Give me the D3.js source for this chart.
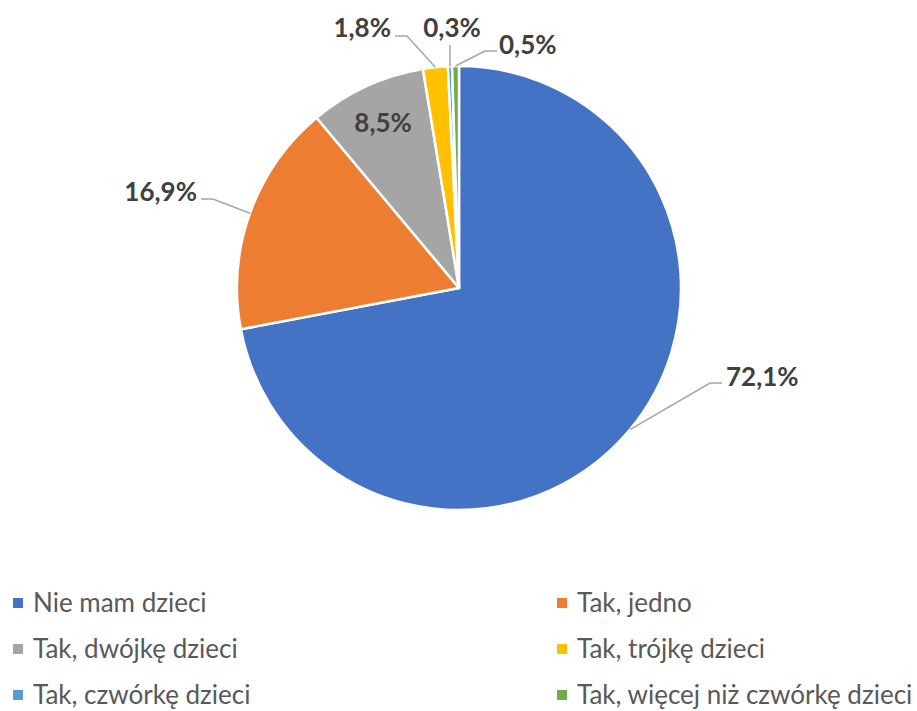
<!DOCTYPE html>
<html><head><meta charset="utf-8">
<script src="https://cdn.jsdelivr.net/npm/d3@7"></script>
<style>body{margin:0;background:#fff}svg{display:block}</style>
</head><body>
<svg id="c" width="917" height="711"></svg>
<script>
const categories = ["Nie mam dzieci","Tak, jedno","Tak, dwójkę dzieci","Tak, trójkę dzieci","Tak, czwórkę dzieci","Tak, więcej niż czwórkę dzieci"];
const values = [72.1,16.9,8.5,1.8,0.3,0.5];
const labels = ["72,1%","16,9%","8,5%","1,8%","0,3%","0,5%"];
const colors = ["#4472C4","#ED7D31","#A5A5A5","#FFC000","#5B9BD5","#70AD47"];

const svg = d3.select("#c");
const cx = 459, cy = 288, R = 222;
const g = svg.append("g").attr("transform",`translate(${cx},${cy})`);
const pie = d3.pie().sort(null).value(d=>d);
const arcs = pie(values);
const arc = d3.arc().innerRadius(0).outerRadius(R);
g.selectAll("path.s").data(arcs).join("path").attr("class","s")
  .attr("d",arc).attr("fill",(d,i)=>colors[i]).attr("stroke","#fff").attr("stroke-width",2.5).attr("stroke-linejoin","round");

// label layout: offsets relative to center (elbow, end, text anchor point)
const layout = [
  {elbow:[251,95], end:[263,95], text:[267,89], anchor:"start"},
  {elbow:[-246,-89], end:[-258,-89], text:[-262,-96], anchor:"end"},
  {inside:0.82},
  {elbow:[-52,-252], end:[-64,-252], text:[-68,-260], anchor:"end"},
  {elbow:[-9,-243], end:[-9,-243], text:[-7,-260], anchor:"middle"},
  {elbow:[26,-237], end:[38,-237], text:[40,-243], anchor:"start"}
];
const pt = (a,r)=>[Math.sin(a)*r, -Math.cos(a)*r];
arcs.forEach((d,i)=>{
  const L = layout[i];
  const mid = (d.startAngle+d.endAngle)/2;
  if (L.inside){
    const p = pt(mid, R*L.inside);
    g.append("text").attr("x",p[0]).attr("y",p[1]).attr("dy","0.36em").attr("text-anchor","middle")
      .attr("font-family","Lato, 'Open Sans', sans-serif").attr("font-weight","bold").attr("font-size",26)
      .attr("fill","#404040").text(labels[i]);
    return;
  }
  const p0 = pt(mid, R);
  const pts = [p0, L.elbow, L.end];
  g.append("path").attr("d", d3.line()(pts)).attr("fill","none").attr("stroke","#A6A6A6").attr("stroke-width",1.5);
  g.append("text").attr("x",L.text[0]).attr("y",L.text[1]).attr("dy","0.36em").attr("text-anchor",L.anchor)
    .attr("font-family","Lato, 'Open Sans', sans-serif").attr("font-weight","bold").attr("font-size",26)
    .attr("fill","#404040").text(labels[i]);
});

// legend
const lg = svg.append("g");
categories.forEach((c,i)=>{
  const col = i%2, row = Math.floor(i/2);
  const x = col===0 ? 13 : 557;
  const y = 603 + row*46;
  lg.append("rect").attr("x",x).attr("y",y-5).attr("width",10).attr("height",10).attr("fill",colors[i]);
  lg.append("text").attr("x",x+20).attr("y",y).attr("dy","0.36em")
    .attr("font-family","Lato, 'Open Sans', sans-serif").attr("font-size",26).attr("fill","#595959").text(c);
});
</script>
</body></html>
